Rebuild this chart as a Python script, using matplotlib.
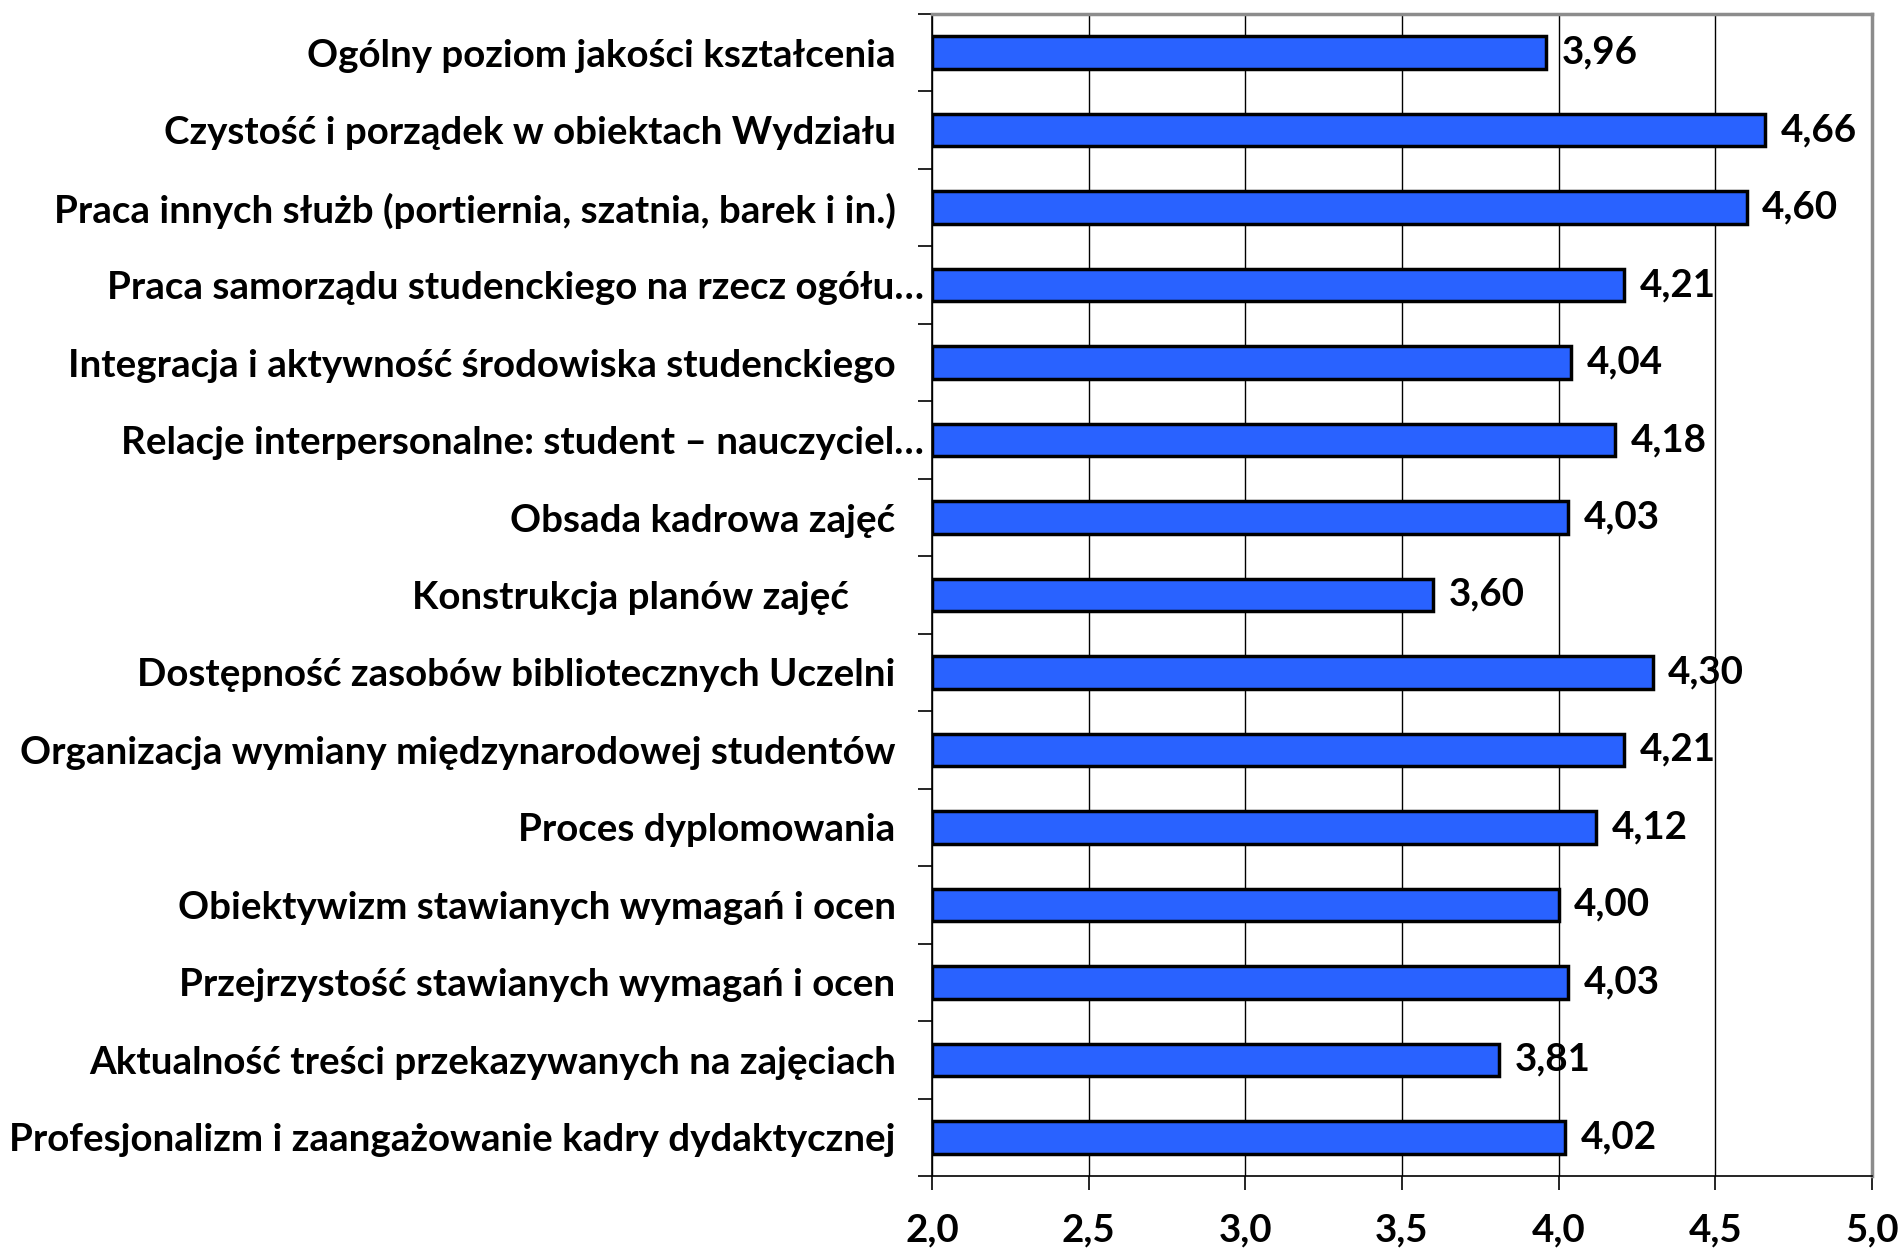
import matplotlib

matplotlib.use("Agg")
import matplotlib.pyplot as plt
import numpy as np

# categories top -> bottom, trailing spaces as in the source chart
labels = [
    "Ogólny poziom jakości kształcenia   ",
    "Czystość i porządek w obiektach Wydziału   ",
    "Praca innych służb (portiernia, szatnia, barek i in.)   ",
    "Praca samorządu studenckiego na rzecz ogółu…",
    "Integracja i aktywność środowiska studenckiego   ",
    "Relacje interpersonalne: student – nauczyciel…",
    "Obsada kadrowa zajęć   ",
    "Konstrukcja planów zajęć        ",
    "Dostępność zasobów bibliotecznych Uczelni   ",
    "Organizacja wymiany międzynarodowej studentów   ",
    "Proces dyplomowania   ",
    "Obiektywizm stawianych wymagań i ocen   ",
    "Przejrzystość stawianych wymagań i ocen   ",
    "Aktualność treści przekazywanych na zajęciach   ",
    "Profesjonalizm i zaangażowanie kadry dydaktycznej   ",
]
values = [3.96, 4.66, 4.60, 4.21, 4.04, 4.18, 4.03, 3.60, 4.30, 4.21,
          4.12, 4.00, 4.03, 3.81, 4.02]
xticks = [2.0, 2.5, 3.0, 3.5, 4.0, 4.5, 5.0]

FONT = "Lato"
FS = 27.7
BAR = "#2962ff"

fig = plt.figure(figsize=(19.01, 12.48), dpi=100)
ax = fig.add_axes([0.4903, 0.0577, 0.4944, 0.9311])

y = np.arange(len(values))
ax.barh(y, np.array(values) - 2.0, left=2.0, height=0.42, color=BAR,
        edgecolor="black", linewidth=2.5, zorder=3)
for yi, v in zip(y, values):
    ax.text(v + 0.05, yi, f"{v:.2f}".replace(".", ","), va="center", ha="left",
            fontsize=FS, fontweight="bold", family=FONT)

ax.set_xlim(2.0, 5.0)
ax.set_ylim(len(values) - 0.5, -0.5)
ax.set_xticks(xticks)
ax.set_xticklabels([f"{t:.1f}".replace(".", ",") for t in xticks],
                   fontsize=FS, fontweight="bold", family=FONT)
ax.set_yticks(y)
ax.set_yticklabels(labels, fontsize=FS, fontweight="bold", family=FONT)
ax.set_yticks(np.arange(len(values) + 1) - 0.5, minor=True)
ax.tick_params(axis="y", which="major", length=0, pad=6)
ax.tick_params(axis="y", which="minor", length=10, width=1.2, direction="out")
ax.tick_params(axis="x", length=10, width=1.2, direction="out", pad=17)
ax.grid(axis="x", color="black", linewidth=1.0, zorder=0)

for side in ("left", "bottom"):
    ax.spines[side].set_color("black")
    ax.spines[side].set_linewidth(1.2)
for side in ("top", "right"):
    ax.spines[side].set_color("#8c8c8c")
    ax.spines[side].set_linewidth(2.5)

fig.savefig("out.png", dpi=100)
